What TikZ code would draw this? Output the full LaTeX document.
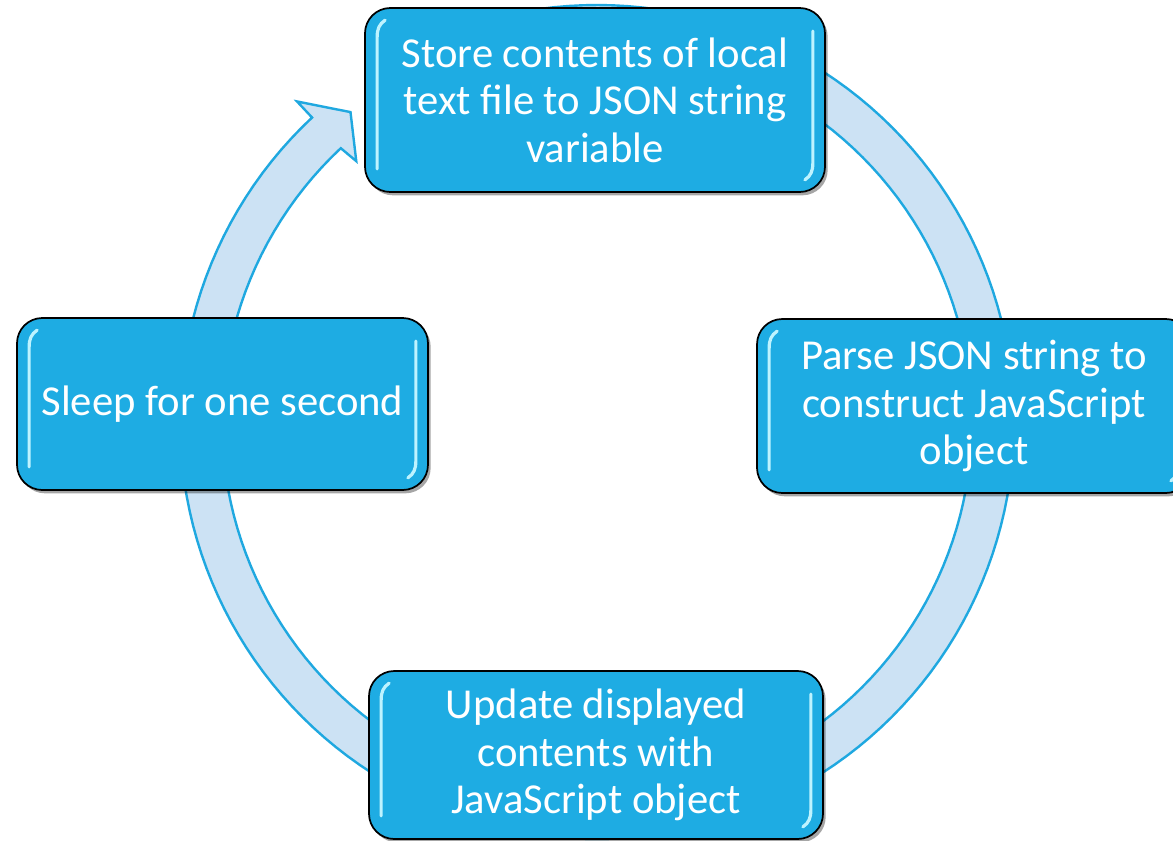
\documentclass[tikz,border=0pt]{standalone}
\usepackage{fontspec}
\setmainfont{Carlito}
\usetikzlibrary{calc,shadows}
\definecolor{boxblue}{RGB}{30,172,227}
\definecolor{ringfill}{RGB}{204,226,244}
\definecolor{ringline}{RGB}{31,168,224}
\definecolor{glint}{RGB}{190,243,255}
% glossy highlight strips along the inner left and right edges of a box
\newcommand\boxgloss[1]{%
  \draw[gloss] ($(#1.south west)+(13,-24)$) -- ($(#1.north west)+(13,30)$)
    .. controls ($(#1.north west)+(13,22)$) and ($(#1.north west)+(15,17)$) .. ($(#1.north west)+(21,13)$);
  \draw[gloss] ($(#1.north east)+(-13,24)$) -- ($(#1.south east)+(-13,-30)$)
    .. controls ($(#1.south east)+(-13,-22)$) and ($(#1.south east)+(-15,-17)$) .. ($(#1.south east)+(-21,-13)$);
}
\begin{document}
\begin{tikzpicture}[x=0.75pt,y=-0.75pt,
  stepbox/.style={draw=black, line width=1.3pt, fill=boxblue, rounded corners=19pt,
    text=white, align=center, inner sep=0pt,
    font=\fontsize{32}{35.6}\selectfont,
    drop shadow={shadow xshift=2pt, shadow yshift=-2.5pt, opacity=0.35, fill=black}},
  gloss/.style={draw=glint, line width=2.4pt, line cap=round},
  ring/.style={fill=ringfill, draw=ringline, line width=1.8pt, line join=miter}]
\useasboundingbox (0,0) rectangle (1173,840);
\fill[white] (0,0) rectangle (1173,840);
\def\cx{597}\def\cy{422}
% clockwise circular arrow behind the steps
\draw[ring]
  plot[domain=262:586.9, samples=160, variable=\t] ({\cx+417*cos(\t)},{\cy+417*sin(\t)})
  -- ({\cx+439*cos(586.9)},{\cy+439*sin(586.9)})
  -- ({\cx+396*cos(591.5)},{\cy+396*sin(591.5)})
  -- ({\cx+355*cos(587.3)},{\cy+355*sin(587.3)})
  -- plot[domain=586.9:262, samples=160, variable=\t] ({\cx+375*cos(\t)},{\cy+375*sin(\t)})
  -- cycle;
% the four steps
\node[stepbox, minimum width=345pt, minimum height=138pt] (store) at (595,100)
  {Store contents of local\\text file to JSON string\\variable};
\node[stepbox, minimum width=325.5pt, minimum height=130.5pt] (parse) at (974,406)
  {Parse JSON string to\\construct JavaScript\\object};
\node[stepbox, minimum width=340.5pt, minimum height=126pt] (update) at (596,755)
  {Update displayed\\contents with\\JavaScript object};
\node[stepbox, minimum width=308.25pt, minimum height=129pt] (sleep) at (222.5,404)
  {Sleep for one second};
\boxgloss{store}
\boxgloss{parse}
\boxgloss{update}
\boxgloss{sleep}
\end{tikzpicture}
\end{document}
